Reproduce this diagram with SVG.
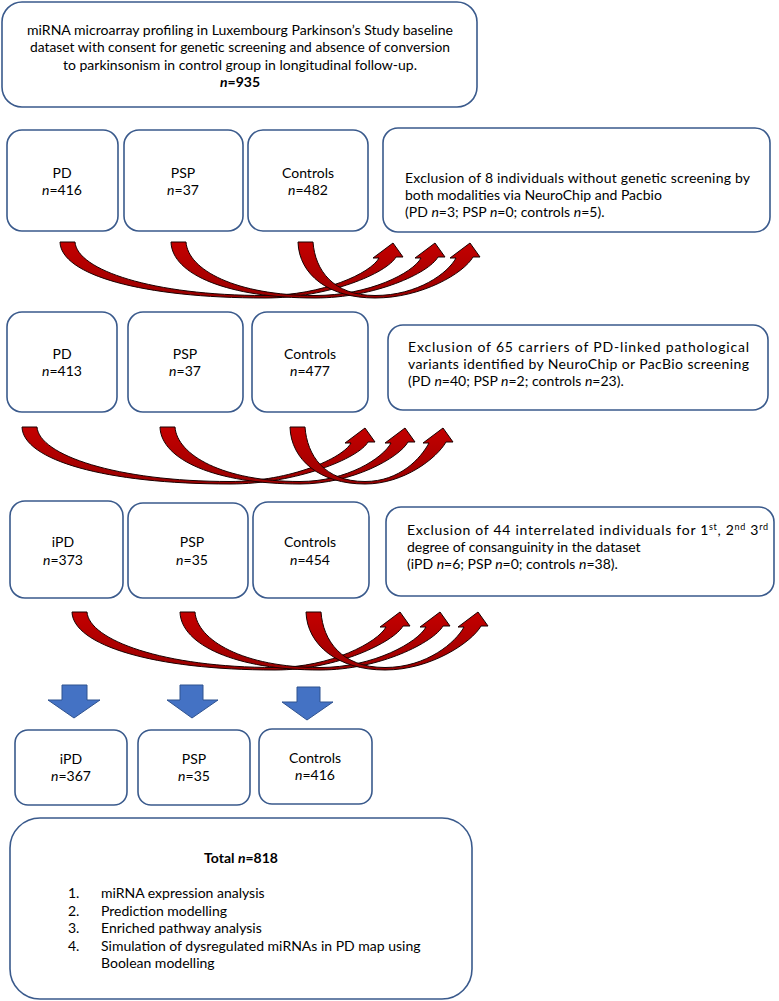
<svg xmlns="http://www.w3.org/2000/svg" width="779" height="1001" viewBox="0 0 779 1001">
<defs>
<linearGradient id="rg" x1="0" y1="0" x2="0" y2="1">
<stop offset="0" stop-color="#c40000"/>
<stop offset="1" stop-color="#9a0000"/>
</linearGradient>
</defs>
<style>
.box{fill:#fff;stroke:#3a5a8c;stroke-width:1.6}
.t{font-family:Lato,"Liberation Sans",sans-serif;font-size:14px;fill:#000}
.c{text-anchor:middle}
.b{font-weight:bold}
.i{font-style:italic}
.red{fill:url(#rg);stroke:#1a0000;stroke-width:1}
.blue{fill:#4472c4;stroke:#2f528f;stroke-width:1}
.sup{font-size:9px}
</style>
<rect width="779" height="1001" fill="#fff"/>
<g id="top">
<rect class="box" x="2" y="2" width="475" height="105" rx="20"/>
<text class="t c" x="240" y="35" textLength="426" lengthAdjust="spacingAndGlyphs">miRNA microarray profiling in Luxembourg Parkinson’s Study baseline</text>
<text class="t c" x="240" y="52" textLength="420" lengthAdjust="spacingAndGlyphs">dataset with consent for genetic screening and absence of conversion</text>
<text class="t c" x="240" y="70" textLength="354" lengthAdjust="spacingAndGlyphs">to parkinsonism in control group in longitudinal follow-up.</text>
<text class="t c b" x="240" y="87"><tspan class="i">n</tspan>=935</text>
</g>
<g id="r1pd"><rect class="box" x="7" y="130" width="111" height="101" rx="15"/>
<text class="t c" x="62" y="178">PD</text><text class="t c" x="62" y="195"><tspan class="i">n</tspan>=416</text></g>
<g id="r1psp"><rect class="box" x="124" y="130" width="119" height="101" rx="15"/>
<text class="t c" x="183" y="178">PSP</text><text class="t c" x="183" y="195"><tspan class="i">n</tspan>=37</text></g>
<g id="r1ctl"><rect class="box" x="248" y="130" width="120" height="101" rx="15"/>
<text class="t c" x="308" y="178">Controls</text><text class="t c" x="308" y="195"><tspan class="i">n</tspan>=482</text></g>
<g id="ex1"><rect class="box" x="383" y="128" width="387" height="104" rx="15"/>
<text class="t" x="405" y="183" textLength="345" lengthAdjust="spacing">Exclusion of 8 individuals without genetic screening by</text>
<text class="t" x="405" y="200">both modalities via NeuroChip and Pacbio</text>
<text class="t" x="405" y="217">(PD <tspan class="i">n</tspan>=3; PSP <tspan class="i">n</tspan>=0; controls <tspan class="i">n</tspan>=5).</text></g>

<g id="r2pd"><rect class="box" x="7" y="312" width="110" height="100" rx="15"/>
<text class="t c" x="62" y="359">PD</text><text class="t c" x="62" y="376"><tspan class="i">n</tspan>=413</text></g>
<g id="r2psp"><rect class="box" x="128" y="312" width="115" height="100" rx="15"/>
<text class="t c" x="185" y="359">PSP</text><text class="t c" x="185" y="376"><tspan class="i">n</tspan>=37</text></g>
<g id="r2ctl"><rect class="box" x="252" y="312" width="116" height="100" rx="15"/>
<text class="t c" x="310" y="359">Controls</text><text class="t c" x="310" y="376"><tspan class="i">n</tspan>=477</text></g>
<g id="ex2"><rect class="box" x="388" y="325" width="380" height="85" rx="15"/>
<text class="t" x="408" y="352" textLength="341" lengthAdjust="spacing">Exclusion of 65 carriers of PD-linked pathological</text>
<text class="t" x="408" y="369" textLength="341" lengthAdjust="spacing">variants identified by NeuroChip or PacBio screening</text>
<text class="t" x="408" y="386">(PD <tspan class="i">n</tspan>=40; PSP <tspan class="i">n</tspan>=2; controls <tspan class="i">n</tspan>=23).</text></g>

<g id="r3pd"><rect class="box" x="10" y="501" width="113" height="97" rx="15"/>
<text class="t c" x="63" y="547">iPD</text><text class="t c" x="63" y="565"><tspan class="i">n</tspan>=373</text></g>
<g id="r3psp"><rect class="box" x="128" y="503" width="120" height="95" rx="15"/>
<text class="t c" x="192" y="547">PSP</text><text class="t c" x="192" y="565"><tspan class="i">n</tspan>=35</text></g>
<g id="r3ctl"><rect class="box" x="253" y="502" width="116" height="96" rx="15"/>
<text class="t c" x="310" y="547">Controls</text><text class="t c" x="310" y="565"><tspan class="i">n</tspan>=454</text></g>
<g id="ex3"><rect class="box" x="386" y="507" width="388" height="89" rx="15"/>
<text class="t" x="407" y="535" textLength="361" lengthAdjust="spacing">Exclusion of 44 interrelated individuals for 1<tspan class="sup" dy="-5">st</tspan><tspan dy="5">, 2</tspan><tspan class="sup" dy="-5">nd</tspan><tspan dy="5"> 3</tspan><tspan class="sup" dy="-5">rd</tspan></text>
<text class="t" x="407" y="552">degree of consanguinity in the dataset</text>
<text class="t" x="407" y="569">(iPD <tspan class="i">n</tspan>=6; PSP <tspan class="i">n</tspan>=0; controls <tspan class="i">n</tspan>=38).</text></g>

<g id="r4pd"><rect class="box" x="15" y="730" width="112" height="75" rx="13"/>
<text class="t c" x="71" y="764">iPD</text><text class="t c" x="71" y="781"><tspan class="i">n</tspan>=367</text></g>
<g id="r4psp"><rect class="box" x="138" y="730" width="112" height="75" rx="13"/>
<text class="t c" x="194" y="764">PSP</text><text class="t c" x="194" y="781"><tspan class="i">n</tspan>=35</text></g>
<g id="r4ctl"><rect class="box" x="259" y="729" width="113" height="75" rx="13"/>
<text class="t c" x="315" y="763">Controls</text><text class="t c" x="315" y="780"><tspan class="i">n</tspan>=416</text></g>

<g id="total"><rect class="box" x="10" y="818" width="462" height="181" rx="30"/>
<text class="t c b" x="241" y="863">Total <tspan class="i">n</tspan>=818</text>
<text class="t" x="68" y="898">1.</text><text class="t" x="101" y="898">miRNA expression analysis</text>
<text class="t" x="68" y="916">2.</text><text class="t" x="101" y="916">Prediction modelling</text>
<text class="t" x="68" y="933">3.</text><text class="t" x="101" y="933">Enriched pathway analysis</text>
<text class="t" x="68" y="951">4.</text><text class="t" x="101" y="951">Simulation of dysregulated miRNAs in PD map using</text>
<text class="t" x="101" y="968">Boolean modelling</text></g>

<g id="connectors">
<path class="red" d="M60,242 C61,275 142,298 265,298 C329,298 387,273 396,257 L403,257 L393,243 L373,258 L379,258 C371,273 323,295.5 265,295.5 C152,295.5 77,270 75,242 Z"/>
<path class="red" d="M171,242 C172,275 229,298 315,298 C375,298 429,273 438,257 L445,257 L435,243 L415,258 L421,258 C413,273 369,295.5 315,295.5 C236,295.5 188,270 186,242 Z"/>
<path class="red" d="M298,242 C299,275 329,298 375,298 C422,298 464,273 473,257 L480,257 L470,243 L450,258 L456,258 C448,273 418,295.5 375,295.5 C333,295.5 315,270 313,242 Z"/>
<path class="red" d="M22,427 C23,460 105,484 230,484 C297,484 359,458 368,442 L375,442 L365,428 L345,443 L351,443 C343,458 291,481.5 230,481.5 C116,481.5 39,455 37,427 Z"/>
<path class="red" d="M160,427 C161,460 216,484 300,484 C352,484 399,458 408,442 L415,442 L405,428 L385,443 L391,443 C383,458 347,481.5 300,481.5 C223,481.5 177,455 175,427 Z"/>
<path class="red" d="M290,427 C291,460 320,484 365,484 C404,484 437,458 446,442 L453,442 L443,428 L423,443 L429,443 C421,458 400,481.5 365,481.5 C324,481.5 307,455 305,427 Z"/>
<path class="red" d="M72,612 C73,645 153,670 275,670 C337,670 394,642 403,626 L410,626 L400,612 L380,627 L386,627 C378,642 331,667.5 275,667.5 C163,667.5 89,640 87,612 Z"/>
<path class="red" d="M180,612 C181,645 236,670 320,670 C380,670 434,642 443,626 L450,626 L440,612 L420,627 L426,627 C418,642 374,667.5 320,667.5 C243,667.5 197,640 195,612 Z"/>
<path class="red" d="M306,612 C307,645 338,670 385,670 C431,670 472,642 481,626 L488,626 L478,612 L458,627 L464,627 C456,642 427,667.5 385,667.5 C341,667.5 323,640 321,612 Z"/>
<polygon class="blue" points="62,685 87,685 87,700 100,700 74,718 48,700 62,700"/>
<polygon class="blue" points="180,685 203,685 203,700 218,700 192,718 167,700 180,700"/>
<polygon class="blue" points="297,687 320,687 320,702 333,702 307,720 282,702 297,702"/>
</g>
</svg>
